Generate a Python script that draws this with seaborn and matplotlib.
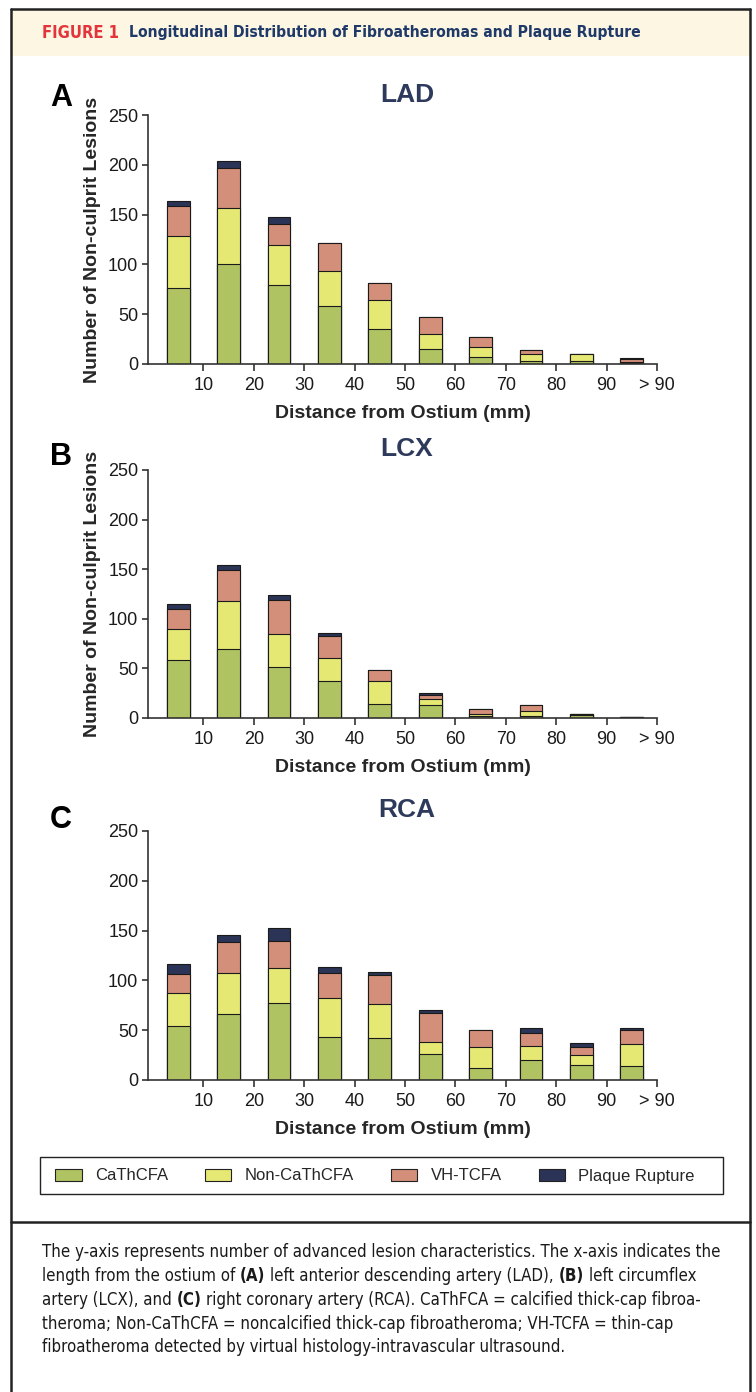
import numpy as np
import pandas as pd
import matplotlib
matplotlib.use("Agg")
import matplotlib.pyplot as plt
import seaborn as sns
from matplotlib import font_manager as fm
from matplotlib.patches import Rectangle, Patch
from matplotlib.lines import Line2D

# ---------------- data ----------------
categories = ["0-10", "10-20", "20-30", "30-40", "40-50", "50-60", "60-70", "70-80", "80-90", ">90"]
tick_labels = ["10", "20", "30", "40", "50", "60", "70", "80", "90", "> 90"]
series_names = ["CaThCFA", "Non-CaThCFA", "VH-TCFA", "Plaque Rupture"]

lad_cathcfa = [76, 100, 79, 58, 35, 15, 7, 3, 3, 1]
lad_noncathcfa = [53, 57, 40, 35, 29, 15, 10, 7, 7, 1]
lad_vhtcfa = [30, 40, 22, 28, 17, 17, 10, 4, 0, 3]
lad_rupture = [5, 7, 7, 0, 0, 0, 0, 0, 0, 1]

lcx_cathcfa = [58, 70, 51, 37, 14, 13, 2, 2, 3, 1]
lcx_noncathcfa = [32, 48, 34, 23, 23, 6, 2, 5, 1, 0]
lcx_vhtcfa = [20, 31, 34, 23, 11, 4, 5, 6, 0, 0]
lcx_rupture = [5, 5, 5, 3, 0, 2, 0, 0, 0, 0]

rca_cathcfa = [54, 66, 77, 43, 42, 26, 12, 20, 15, 14]
rca_noncathcfa = [33, 41, 35, 39, 34, 12, 21, 14, 10, 22]
rca_vhtcfa = [19, 32, 28, 25, 29, 29, 17, 13, 8, 14]
rca_rupture = [10, 7, 13, 6, 3, 3, 0, 5, 4, 2]

panel_titles = ["LAD", "LCX", "RCA"]
panel_letters = ["A", "B", "C"]

colors = ["#AFC362", "#E6E874", "#D48F7A", "#2B3456"]

header_tag = "FIGURE 1"
header_title = "Longitudinal Distribution of Fibroatheromas and Plaque Rupture"
caption_lines = [
    [("The y-axis represents number of advanced lesion characteristics. The x-axis indicates the", False)],
    [("length from the ostium of ", False), ("(A)", True), (" left anterior descending artery (LAD), ", False),
     ("(B)", True), (" left circumflex", False)],
    [("artery (LCX), and ", False), ("(C)", True),
     (" right coronary artery (RCA). CaThFCA = calcified thick-cap fibroa-", False)],
    [("theroma; Non-CaThCFA = noncalcified thick-cap fibroatheroma; VH-TCFA = thin-cap", False)],
    [("fibroatheroma detected by virtual histology-intravascular ultrasound.", False)],
]

# ---------------- style ----------------
sns.set_style("ticks")
plt.rcParams["font.family"] = ["Liberation Sans", "DejaVu Sans"]

names = {f.name for f in fm.fontManager.ttflist}
stretches = {(f.name, str(f.stretch)) for f in fm.fontManager.ttflist}
if "Liberation Sans Narrow" in names:
    CF = dict(family=["Liberation Sans Narrow", "DejaVu Sans"])
elif any(n == "DejaVu Sans" and "condensed" in s for n, s in stretches):
    CF = dict(family=["DejaVu Sans"], fontstretch="condensed")
else:
    CF = dict(family=["Liberation Sans", "DejaVu Sans"])

W, H = 756, 1392
fig = plt.figure(figsize=(W / 100, H / 100), dpi=100)
renderer = fig.canvas.get_renderer()


def fx(px):
    return px / W


def fy(py):
    return 1 - py / H


# ---------------- frame / header ----------------
fig.patches.append(Rectangle((fx(11), fy(56)), fx(750) - fx(11), fy(9) - fy(56),
                             transform=fig.transFigure, facecolor="#FDF6E3", edgecolor="none", zorder=0))
for xs, ys in [([11, 11], [9, H]), ([750, 750], [9, H]), ([11, 750], [9, 9]), ([11, 750], [1222, 1222])]:
    fig.lines.append(Line2D([fx(v) for v in xs], [fy(v) for v in ys], transform=fig.transFigure,
                            color="#222222", lw=1.8))


def fit_text(x, y, s, target_w, **kw):
    t = fig.text(fx(x), fy(y), s, **kw)
    size = t.get_fontsize()
    w = t.get_window_extent(renderer).width
    t.set_fontsize(size * target_w / w)
    return t


fit_text(42, 33, header_tag, 77, fontsize=11, fontweight="bold", color="#E3343A", va="center", ha="left", **CF)
fit_text(129, 33, header_title, 512, fontsize=12, fontweight="bold", color="#1F3A68", va="center", ha="left", **CF)

# ---------------- panels ----------------
panels = [
    (115, 364, [lad_cathcfa, lad_noncathcfa, lad_vhtcfa, lad_rupture], True, 95, 98),
    (470, 718, [lcx_cathcfa, lcx_noncathcfa, lcx_vhtcfa, lcx_rupture], True, 449, 457),
    (831, 1080, [rca_cathcfa, rca_noncathcfa, rca_vhtcfa, rca_rupture], False, 810, 820),
]

for k, (top, bottom, layers, has_ylabel, ty, ly) in enumerate(panels):
    ax = fig.add_axes([fx(148), fy(bottom), (657 - 148) / W, (bottom - top) / H])
    cum = np.cumsum(np.array(layers, dtype=float), axis=0)
    df = pd.DataFrame({"cat": categories})
    for i in range(4):
        df[f"c{i}"] = cum[i]
    for i in reversed(range(4)):
        sns.barplot(data=df, x="cat", y=f"c{i}", order=categories, color=colors[i], saturation=1,
                    width=0.45, edgecolor="#1a1a1a", linewidth=0.8, errorbar=None, ax=ax)
    ax.set_xlim(-0.6, 9.5)
    ax.set_ylim(0, 250)
    ax.set_yticks(range(0, 251, 50))
    ax.set_xticks(np.arange(len(categories)) + 0.5)
    ax.set_xticklabels(tick_labels)
    sns.despine(ax=ax)
    for sp in ["left", "bottom"]:
        ax.spines[sp].set_color("#333333")
        ax.spines[sp].set_linewidth(1.2)
    ax.tick_params(axis="x", direction="out", length=5, width=1.2, color="#333333", labelsize=13,
                   pad=4, labelcolor="#1a1a1a")
    ax.tick_params(axis="y", direction="out", length=4, width=1.2, color="#333333", labelsize=13,
                   pad=3, labelcolor="#1a1a1a")
    ax.set_xlabel("Distance from Ostium (mm)", fontsize=14, fontweight="bold", labelpad=8)
    if has_ylabel:
        ax.set_ylabel("Number of Non-culprit Lesions", fontsize=14, fontweight="bold")
        ax.yaxis.set_label_coords(-0.093, 0.5)
    else:
        ax.set_ylabel("")
    fig.text(fx(407), fy(ty), panel_titles[k], ha="center", va="center", fontsize=19,
             fontweight="bold", color="#2E3A5C")
    fig.text(fx(61), fy(ly), panel_letters[k], ha="center", va="center", fontsize=22,
             fontweight="bold", color="black")

# ---------------- legend ----------------
fig.patches.append(Rectangle((fx(40), fy(1194)), fx(723) - fx(40), fy(1157) - fy(1194),
                             transform=fig.transFigure, facecolor="none", edgecolor="#222222", lw=1.0))
handles = [Patch(facecolor=c, edgecolor="#222222", lw=0.8) for c in colors]
fig.legend(handles, series_names, loc="center left", bbox_to_anchor=(fx(55), fy(1176)), ncol=4,
           frameon=False, fontsize=12, handlelength=1.6, handleheight=0.7, handletextpad=0.8,
           columnspacing=2.2, borderaxespad=0, borderpad=0)

# ---------------- caption ----------------
def seg_w(s, bold, size):
    kw = dict(fontsize=size, fontweight="bold" if bold else "normal", **CF)
    t1 = fig.text(0, 0, "|" + s + "|", **kw)
    t2 = fig.text(0, 0, "||", **kw)
    w = t1.get_window_extent(renderer).width - t2.get_window_extent(renderer).width
    t1.remove()
    t2.remove()
    return w


base = 12
cap_size = base * 678 / seg_w(caption_lines[0][0][0], False, base)
line_y = [1252, 1276, 1300, 1324, 1347]
for segs, y in zip(caption_lines, line_y):
    x = 42
    for s, bold in segs:
        stripped = s.lstrip(" ")
        lead = s[: len(s) - len(stripped)]
        lead_w = seg_w(lead, bold, cap_size) if lead else 0
        fig.text(fx(x + lead_w), fy(y), stripped.rstrip(" "), fontsize=cap_size,
                 fontweight="bold" if bold else "normal", color="#1a1a1a", va="center", ha="left", **CF)
        x += seg_w(s, bold, cap_size)

fig.savefig("out.png", dpi=100)
